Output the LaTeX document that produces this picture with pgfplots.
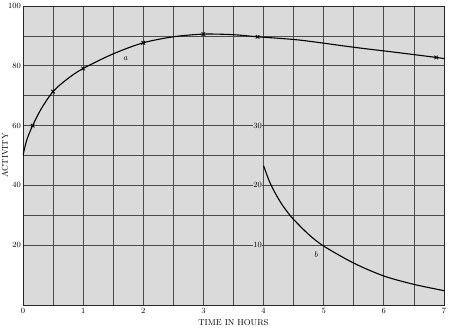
\documentclass[border=0pt]{standalone}
\usepackage{pgfplots}
\pgfplotsset{compat=1.18}
\definecolor{paper}{RGB}{218,218,218}
\definecolor{gridc}{RGB}{75,75,75}
\begin{document}
\begin{tikzpicture}
\begin{axis}[
 scale only axis, width=421pt, height=299pt,
 xmin=0, xmax=7, ymin=0, ymax=100,
 xtick={0,...,7}, minor x tick num=1,
 ytick={20,40,...,100}, minor y tick num=1,
 grid=both,
 major grid style={gridc, line width=0.8pt},
 minor grid style={gridc, line width=0.8pt},
 major tick length=0pt, minor tick length=0pt,
 axis line style={black!85, line width=0.9pt},
 axis background/.style={fill=paper},
 tick label style={font=\fontsize{8}{9}\selectfont},
 yticklabel style={xshift=1.5pt},
 xlabel={TIME IN HOURS}, ylabel={ACTIVITY},
 label style={font=\fontsize{8.5}{10}\selectfont},
 xlabel style={at={(axis description cs:0.5,-0.06)}, anchor=center},
 ylabel style={at={(axis description cs:-0.043,0.5)}, anchor=center},
]
\addplot[black, line width=1.1pt, smooth, tension=0.5] coordinates {
 (0,50) (0.06,55) (0.16,60) (0.3,65.5) (0.5,71.4) (0.75,75.8) (1,79.1)
 (1.5,84) (2,87.7) (2.5,89.7) (3,90.6) (3.5,90.4) (3.9,89.7) (4.6,88.6)
 (5.5,86.2) (6.2,84.5) (6.87,82.8) (7,82.4)};
\addplot[only marks, mark=x, mark size=2.5pt, black, thick] coordinates {
 (0.16,60) (0.5,71.4) (1,79.1) (2,87.7) (3,90.6) (3.9,89.7) (6.87,82.8)};
\addplot[black, line width=1.1pt, smooth, tension=0.5] coordinates {
 (4,46.6) (4.1,41.2) (4.2,37.2) (4.3,33.8) (4.4,31.0) (4.5,28.6)
 (4.75,23.6) (5,19.7) (5.5,14.0) (6,9.7) (6.5,6.9) (7,4.8)};
\node[font=\fontsize{8.5}{10}\selectfont\itshape] at (axis cs:1.7,82.3) {a};
\node[font=\fontsize{8.5}{10}\selectfont\itshape] at (axis cs:4.87,16.7) {b};
\node[fill=paper, inner sep=0.6pt, font=\fontsize{8}{9}\selectfont] at (axis cs:3.9,60) {30};
\node[fill=paper, inner sep=0.6pt, font=\fontsize{8}{9}\selectfont] at (axis cs:3.9,40) {20};
\node[fill=paper, inner sep=0.6pt, font=\fontsize{8}{9}\selectfont] at (axis cs:3.9,20) {10};
\end{axis}
\pgfresetboundingbox
\path[use as bounding box] ([shift={(-23pt,-25pt)}]current axis.south west) rectangle ([shift={(6pt,6pt)}]current axis.north east);
\end{tikzpicture}
\end{document}
